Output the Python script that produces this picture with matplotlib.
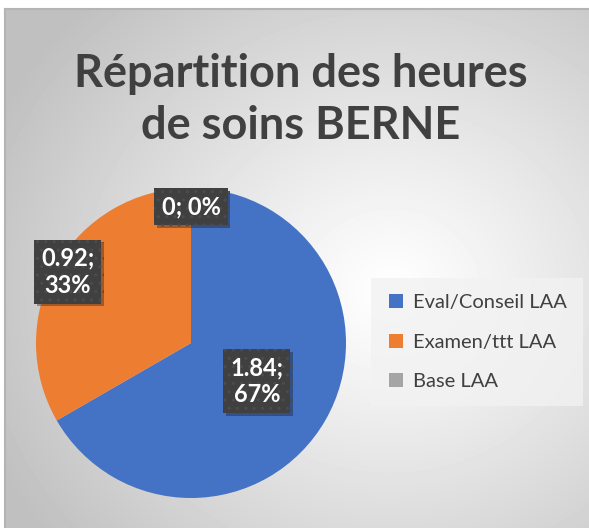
import numpy as np
import matplotlib.pyplot as plt
import matplotlib.patheffects as pe
from matplotlib.lines import Line2D

# Data
categories = ['Eval/Conseil LAA', 'Examen/ttt LAA', 'Base LAA']
hours = [1.84, 0.92, 0.0]
percents = [67, 33, 0]
colors = ['#4472C4', '#ED7D31', '#A5A5A5']
title = 'Répartition des heures\nde soins BERNE'

# label distance from the centre (fraction of radius), per slice
label_radius = [0.49, 0.92, 0.88]

W, H = 589, 528
fig = plt.figure(figsize=(W / 100, H / 100), dpi=100)
fig.patch.set_facecolor('white')

# radial grey-to-white background of the chart area
x0, y0 = 5, 9
bg = fig.add_axes([x0 / W, 0, 1 - x0 / W, 1 - y0 / H])
yy, xx = np.mgrid[y0:H, x0:W]
d = np.sqrt(((xx - 390) / 1.05) ** 2 + ((yy - 290) / 0.95) ** 2)
shade = 1 - 0.25 * np.clip(d / 420, 0, 1) ** 1.1
bg.imshow(shade, cmap='gray', vmin=0, vmax=1, aspect='auto',
          extent=[0, 1, 0, 1], interpolation='bilinear')
bg.set_xticks([])
bg.set_yticks([])
for s in ['right', 'bottom']:
    bg.spines[s].set_visible(False)
for s in ['top', 'left']:
    bg.spines[s].set_color('#b4b4b4')
    bg.spines[s].set_linewidth(1.5)

fig.text(301 / W, 1 - 100 / H, title, ha='center', va='center',
         fontsize=32.5, fontweight='bold', color='#404040',
         family='Lato', linespacing=1.3)

# pie
cx, cy, r = 191, 343, 155
ax = fig.add_axes([(cx - r) / W, (H - cy - r) / H, 2 * r / W, 2 * r / H])
wedges, _ = ax.pie(hours, colors=colors, startangle=90, counterclock=False,
                   radius=1, wedgeprops=dict(linewidth=0))
ax.set_xlim(-1, 1)
ax.set_ylim(-1, 1)
ax.set_aspect('auto')
ax.axis('off')

for w, h, p, lr in zip(wedges, hours, percents, label_radius):
    ang = np.deg2rad((w.theta1 + w.theta2) / 2)
    txt = f'{h:g}; {p}%' if h == 0 else f'{h:g};\n{p}%'
    t = ax.text(lr * np.cos(ang), lr * np.sin(ang), txt, ha='center',
                va='center', color='white', fontsize=17, fontweight='bold',
                family='Lato', linespacing=1.2,
                bbox=dict(boxstyle='square,pad=0.3', facecolor='#404040',
                          edgecolor='#4c4c4c', hatch='..', linewidth=0))
    t.get_bbox_patch().set_path_effects(
        [pe.SimplePatchShadow(offset=(2, -2), alpha=0.35), pe.Normal()])

handles = [Line2D([], [], marker='s', linestyle='none', markersize=10,
                  markerfacecolor=c, markeredgewidth=0) for c in colors]
leg = fig.legend(handles, categories, loc='center',
                 bbox_to_anchor=(477 / W, 1 - 342 / H), frameon=True,
                 prop=dict(family='Lato', size=14.5), labelcolor='#404040',
                 labelspacing=1.1, handlelength=0.9, handletextpad=0.4,
                 borderpad=0.8, fancybox=False)
leg.get_frame().set_facecolor('#f2f2f2')
leg.get_frame().set_alpha(0.8)
leg.get_frame().set_linewidth(0)

fig.savefig('out.png', dpi=100)
plt.close(fig)
